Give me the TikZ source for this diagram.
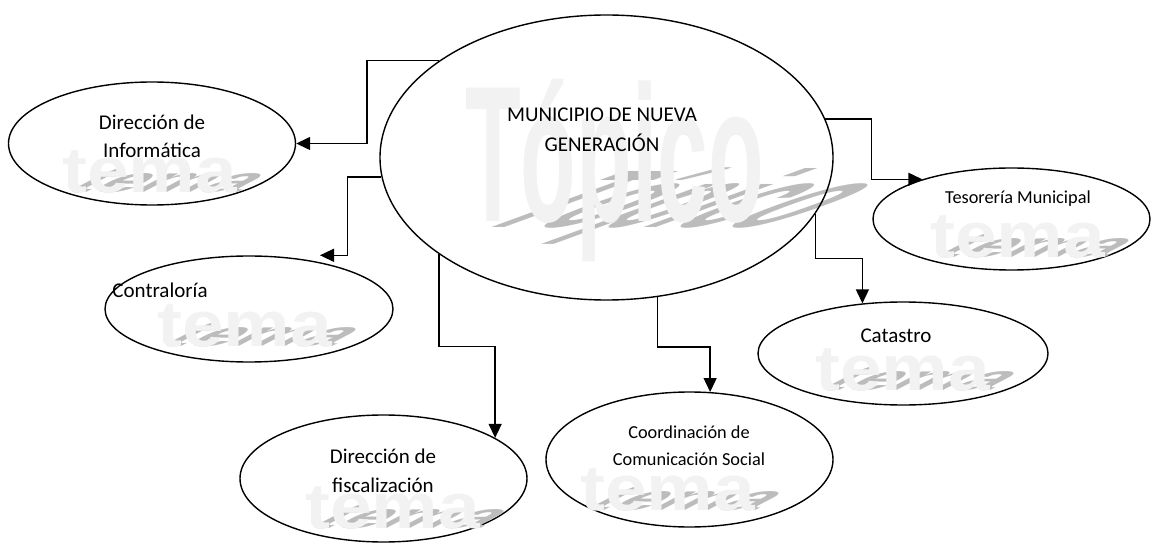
\documentclass[tikz,border=0pt]{standalone}
\usepackage{fontspec}
\setmainfont{Carlito}
\newfontfamily\wmfont{Liberation Sans}
\usetikzlibrary{shapes.geometric,arrows.meta,calc}
\definecolor{wmtext}{RGB}{242,242,242}
\definecolor{wmshadow}{RGB}{188,188,188}
\tikzset{
  unit/.style={draw, ellipse, line width=1.4pt, inner sep=0pt},
  conn/.style={line width=1.4pt, -{Triangle[length=14pt,width=13pt]}},
  big/.style={font=\fontsize{21}{25}\selectfont, anchor=base, inner sep=0pt},
  small/.style={font=\fontsize{18.3}{22}\selectfont, anchor=base, inner sep=0pt},
  wm/.style={anchor=base west, inner sep=0pt, transform shape, font=\wmfont\bfseries\fontsize{64}{64}\selectfont},
  wmbig/.style={anchor=base west, inner sep=0pt, transform shape, font=\wmfont\bfseries\fontsize{194}{194}\selectfont},
}
\newcommand\wmtema[2]{%
  \begin{scope}[shift={(#2)}, cm={1.17,0,1.05,0.55,(0,0)}]
    \node[wm, text=wmshadow] (#1s) at (0,0) {tema};
  \end{scope}
  \begin{scope}[shift={(#2)}, xscale=1.17]
    \node[wm, text=wmtext] (#1t) at (0,0) {tema};
  \end{scope}}
\begin{document}
\begin{tikzpicture}[x=1pt,y=-1pt]
\useasboundingbox (0,0) rectangle (1154,545);
% big watermark
\begin{scope}[shift={(470,228)}, cm={0.47,0,1.15,0.42,(0,0)}]
  \node[wmbig, text=wmshadow] (tops) at (0,0) {Tópico};
\end{scope}
\begin{scope}[shift={(465,222)}, xscale=0.47]
  \node[wmbig, text=wmtext] (topt) at (0,0) {Tópico};
\end{scope}
% ellipses
\node[unit, minimum width=453pt, minimum height=285pt] (main) at (606.5,157.5) {};
\node[unit, minimum width=287pt, minimum height=123pt] (info) at (152,143.5) {};
\node[unit, minimum width=288pt, minimum height=106pt] (contr) at (249,309) {};
\node[unit, minimum width=287pt, minimum height=127pt] (fisc) at (383.5,478.5) {};
\node[unit, minimum width=287pt, minimum height=135pt] (coord) at (689.5,459.5) {};
\node[unit, minimum width=290pt, minimum height=103pt] (cat) at (903,353.5) {};
\node[unit, minimum width=277pt, minimum height=102pt] (teso) at (1011.5,219) {};
% small watermarks
\wmtema{wminfo}{62,193}
\wmtema{wmcontr}{157,347}
\wmtema{wmfisc}{305,528}
\wmtema{wmcoord}{580,510}
\wmtema{wmcat}{815,390}
\wmtema{wmteso}{930,258}
% labels
\node[big] (mainA) at (602,122) {MUNICIPIO DE NUEVA};
\node[big] (mainB) at (602,152) {GENERACIÓN};
\node[big] (infoA) at (152,130) {Dirección de};
\node[big] (infoB) at (152,158) {Informática};
\node[big] (contrA) at (160,298) {Contraloría};
\node[big] (fiscA) at (383,463) {Dirección de};
\node[big] (fiscB) at (383,492) {fiscalización};
\node[small] (coordA) at (689,438) {Coordinación de};
\node[small] (coordB) at (689,465) {Comunicación Social};
\node[big] (catA) at (896,342) {Catastro};
\node[small] (tesoA) at (1018,204) {Tesorería Municipal};
% connectors
\draw[conn] (main.150) -- ++(-72,0) |- (info.east);
\draw[conn] (main.185) -- ++(-34,0) |- ($(contr.north)+(71,0)$);
\draw[conn] (main.210) -- ++(0,92) -| (fisc.20);
\draw[conn] (main.290) -- ++(0,50) -| (coord.73);
\draw[conn] (main.345) -- ++(0,45) -| (cat.129);
\draw[conn] (main.10) -- ++(46,0) |- (teso.156);
\end{tikzpicture}
\end{document}
